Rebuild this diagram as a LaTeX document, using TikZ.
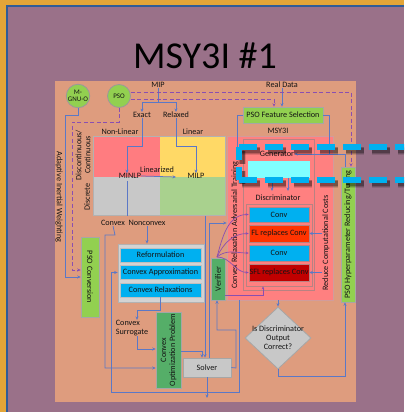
\documentclass[tikz,border=0pt]{standalone}
\usepackage{fontspec}
\setmainfont{Carlito}
\usetikzlibrary{shapes.geometric,arrows.meta}
\definecolor{bgorange}{HTML}{E3A538}
\definecolor{bgpurple}{HTML}{9A7189}
\definecolor{borderblue}{HTML}{2F5C98}
\definecolor{salmon}{HTML}{DE9C7E}
\definecolor{lnblue}{HTML}{5B78C6}
\definecolor{dpurple}{HTML}{8A4FB0}
\definecolor{lgreen}{HTML}{92D050}
\definecolor{dgreen}{HTML}{55AE68}
\definecolor{qred}{HTML}{FF7C80}
\definecolor{qyellow}{HTML}{FFD966}
\definecolor{qgray}{HTML}{C8C8C8}
\definecolor{qgreen}{HTML}{A9D18E}
\definecolor{cblue}{HTML}{00B0F0}
\definecolor{flred}{HTML}{FF3300}
\definecolor{sflred}{HTML}{C00000}
\definecolor{cyanbox}{HTML}{80FFFF}
\definecolor{msyred}{HTML}{FF8080}
\definecolor{txt}{HTML}{141414}
\begin{document}
\begin{tikzpicture}[x=1pt,y=-1pt,
  every node/.style={font=\fontsize{8.2}{9}\selectfont, inner sep=0pt, text=txt},
  ln/.style={draw=lnblue, line width=0.75pt},
  ar/.style={ln, -{Stealth[length=3.5pt,width=3pt]}},
  dl/.style={draw=dpurple, line width=1pt, dash pattern=on 4pt off 2.5pt},
  dar/.style={dl, -{Stealth[length=3.5pt,width=3pt]}},
  pr/.style={draw=dpurple, line width=0.7pt, -{Stealth[length=3pt,width=2.5pt]}},
  circ/.style={circle, draw=gray!80, line width=0.8pt, fill=lgreen, minimum size=23pt, align=center, font=\fontsize{7}{7.5}\selectfont},
  bbox/.style={fill=cblue, draw=gray!50, line width=0.5pt, minimum width=81pt, minimum height=14pt},
  quad/.style={anchor=north west, inner sep=0pt},
  cbox/.style={draw=msyred!60!black!70, line width=0.5pt, minimum width=60pt, minimum height=15pt},
  redline/.style={draw=msyred!60!black!70, line width=0.5pt},
  shad/.style={black, line width=6pt},
]
\useasboundingbox (0,0) rectangle (404,412);
\clip (0,0) rectangle (404,412);
% background
\fill[bgorange] (0,0) rectangle (404,412);
\fill[bgpurple] (7,6) rectangle (404,412);
\draw[borderblue, line width=1.2pt] (7,412) -- (7,6) -- (404,6);
\node[font=\fontsize{38}{40}\selectfont, text=black] (title) at (205,56) {MSY3I \#1};
\node[fill=salmon, anchor=north west, minimum width=301pt, minimum height=321pt] (panel) at (55,81) {};

% grid quadrants
\node[quad, fill=qred, minimum width=67pt, minimum height=41pt] (qa) at (93,136) {};
\node[quad, fill=qyellow, minimum width=65pt, minimum height=41pt] (qb) at (160,136) {};
\node[quad, fill=qgray, minimum width=67pt, minimum height=38pt] (qc) at (93,177) {};
\node[quad, fill=qgreen, minimum width=65pt, minimum height=38pt] (qd) at (160,177) {};
\draw[gray!60, line width=0.5pt] (qa.north west) rectangle (qd.south east);

% circles
\node[circ] (mgnuo) at (78,96) {M-\\GNU-O};
\node[circ] (pso) at (119,96) {PSO};

% top labels
\node (mip) at (158,85) {MIP};
\node (exact) at (142,115) {Exact};
\node (relaxed) at (176,115) {Relaxed};
\node (nonlin) at (120,132) {Non-Linear};
\node (lin) at (193,132) {Linear};
\node (minlp) at (130,176) {MINLP};
\node (milp) at (196,176) {MILP};
\node (linz) at (157,170) {Linearized};
\node[rotate=90, align=center] (disc) at (83,155) {Discontinuous/\\Continuous};
\node[rotate=90] (discrete) at (87,197) {Discrete};
\node[rotate=-90] (aiw) at (59,197) {Adaptive Inertial Weighting};
\node (convex) at (113,223) {Convex};
\node (nonconvex) at (147,223) {Nonconvex};

% convex group
\node[fill=qgray!80, draw=gray!60, line width=0.8pt, minimum width=86pt, minimum height=58pt] (cont) at (161,273) {};
\node[bbox] (reform) at (160.5,255) {Reformulation};
\node[bbox] (capprox) at (160.5,272.5) {Convex Approximation};
\node[bbox] (crelax) at (160.5,290) {Convex Relaxations};
\node[align=left] (csur) at (132,328) {Convex\\Surrogate};
\node[fill=dgreen, draw=gray!70, line width=0.5pt, minimum width=25pt, minimum height=76pt] (cop) at (168.5,350) {};
\node[rotate=90, align=center] at (cop.center) {Convex\\Optimization Problem};
\node[fill=qgray, draw=gray!70, line width=0.6pt, minimum width=48pt, minimum height=19pt] (solver) at (207,367.5) {Solver};
\node[fill=lgreen, draw=gray!70, line width=0.5pt, minimum width=18pt, minimum height=80pt] (psoconv) at (90,277) {};
\node[rotate=-90] at (psoconv.center) {PSO Conversion};

% right side
\node (realdata) at (282,85) {Real Data};
\node[fill=lgreen, draw=gray!70, line width=0.6pt, minimum width=80pt, minimum height=16pt] (psofs) at (283,115) {PSO Feature Selection};
\node (msylbl) at (278,131) {MSY3I};
\node[fill=msyred, draw=msyred!70!black!60, line width=0.6pt, minimum width=106pt, minimum height=164pt] (msy) at (280,218) {};
\node[redline, minimum width=71pt, minimum height=151pt] (genbox) at (278.5,214.5) {};
\node (gen) at (277,154) {Generator};
\node[fill=cyanbox, minimum width=62pt, minimum height=17pt] (cyan) at (279,169) {};
\node (disc2) at (278,198) {Discriminator};
\node[redline, line width=0.6pt, minimum width=66pt, minimum height=82pt] (ccont) at (279,245) {};
\node[cbox, fill=cblue] (conv1) at (279,214.5) {Conv};
\node[cbox, fill=flred, minimum height=17pt] (fl) at (279,233.5) {FL replaces Conv};
\node[cbox, fill=cblue, minimum height=16pt] (conv2) at (279,253) {Conv};
\node[cbox, fill=sflred, minimum height=17pt] (sfl) at (279,272.5) {SFL replaces Conv};
\node[rotate=90] (crat) at (235,225) {Convex Relaxation Adversarial Training};
\node[rotate=90] (rcc) at (326,243) {Reduce Computational Costs};
\node[fill=lgreen, draw=gray!70, line width=0.6pt, minimum width=14pt, minimum height=135pt] (psohp) at (348,234.5) {};
\node[rotate=90] at (psohp.center) {PSO Hyperparameter Reducing/Tuning};
\node[fill=dgreen, draw=gray!70, line width=0.5pt, minimum width=14pt, minimum height=42pt] (verif) at (218,279) {};
\node[rotate=90] at (verif.center) {Verifier};
\node[diamond, fill=qgray, draw=gray!70, line width=0.8pt, minimum width=66pt, minimum height=62pt] (dia) at (278,338) {};
\node[align=center] at (dia.center) {Is Discriminator\\Output\\Correct?};

% ---- connectors ----
\coordinate (m1) at (158,102);
\draw[ln] (mip.south) -- (m1);
\draw[ar] (m1) -| (exact.north);
\draw[ar] (m1) -| (relaxed.north);
\draw[ar] (exact.south) -- (142,146) -- (127,146) -- (minlp.north -| 127,0);
\draw[ar] (relaxed.south) -- (176,146) -| (milp.north);
\draw[ar] (minlp.east) -- (176,177);
\draw[ln] (127,181) -- (127,216);
\draw[ar] (nonconvex.south) -- (nonconvex.south |- cont.north);
\draw[ar] (convex.south) -- (115,235) -- (105,235) -- (105,368) -- (cop.west |- 0,368);
\draw[ar] (crelax.south -| 160,0) -- (160,310) -- (137,310) -- (csur.north -| 137,0);
\draw[ar] (csur.south -| 137,0) -- (137,349) -- (cop.west |- 0,349);
\draw[ar] (cop.east |- 0,351) -- (202,351) -- (solver.north -| 202,0);
\draw[ar] (205,216) -- (solver.north -| 205,0);
\draw[ar] (solver.south) -- (207,398);
\draw[ar] (solver.east) -- (236,368) -- (236,330) -- (217,330) -- (verif.south -| 217,0);
\draw[ar] (msy.south -| 239,0) -- (239,392) -- (111,392) -- (111,272.5) -- (cont.west |- capprox);
\draw[ar] (solver.north -| 209,0) -- (209,223) -- (msy.west |- 0,223);
\draw[ar] (msy.south -| dia.north) -- (dia.north);
\draw[ar] (dia.south) -- (278,376) -- (345,376) -- (psohp.south -| 345,0);
\draw[ar] (psohp.north -| 345,0) -- (345,154) -- (gen.east);
\draw[ln] (psofs.east) -- (329,115) -- (329,154);
\draw[ln] (psofs.west) -- (237,115) -- (237,150);
\draw[ar] (cyan.south -| 272,0) -- (272,191);
\draw[ar] (cyan.south -| 288,0) -- (288,191);
\draw[ar] (rcc.north |- fl) -- (fl.east);
\draw[ar] (rcc.north |- sfl) -- (sfl.east);
\draw[ar] (realdata.south) -- (psofs.north -| realdata);
\draw[ar] (mgnuo.south) -- (78,115) -- (65,115) -- (65,277) -- (psoconv.west |- 0,277);
% dashed PSO links
\draw[dar] (pso.south) -- (119,122) -- (72,122) -- (72,270) -- (psoconv.west |- 0,270);
\draw[dar] (pso.east |- 0,99) -- (274,99) -- (psofs.north -| 274,0);
\draw[dar] (pso.east |- 0,92) -- (351,92) -- (psohp.north -| 351,0);
% verifier curves
\coordinate (vt) at (217,257);
\draw[pr] (vt) to[out=75,in=180] (conv1.west);
\draw[pr] (vt) to[out=65,in=180] (fl.west);
\draw[pr] (vt) to[out=40,in=180] (conv2.west);
\draw[pr] (vt) to[out=0,in=180] (sfl.west);
\draw[pr] (verif.east |- 0,295) -- (263,295) -- (ccont.south -| 263,0);

% big cyan dashed frame with soft shadow
\foreach \o/\w in {0.12/8, 0.18/6.5, 0.25/5} {
  \draw[shad, opacity=\o, line width=\w pt, dash pattern=on 18pt off 8pt] (242,150.5) -- (420,150.5);
  \draw[shad, opacity=\o, line width=\w pt, dash pattern=on 18pt off 8pt] (242,183.5) -- (420,183.5);
  \draw[shad, opacity=\o, line width=\w pt, dash pattern=on 13pt off 7pt] (242,150.5) -- (242,183.5);
}
\draw[cblue, line width=5.5pt, dash pattern=on 18pt off 8pt] (239,180) -- (420,180);
\draw[cblue, line width=5.5pt, dash pattern=on 18pt off 8pt] (239,147) -- (420,147);
\draw[cblue, line width=5.5pt, dash pattern=on 13pt off 7pt] (239,147) -- (239,180);
\end{tikzpicture}
\end{document}
